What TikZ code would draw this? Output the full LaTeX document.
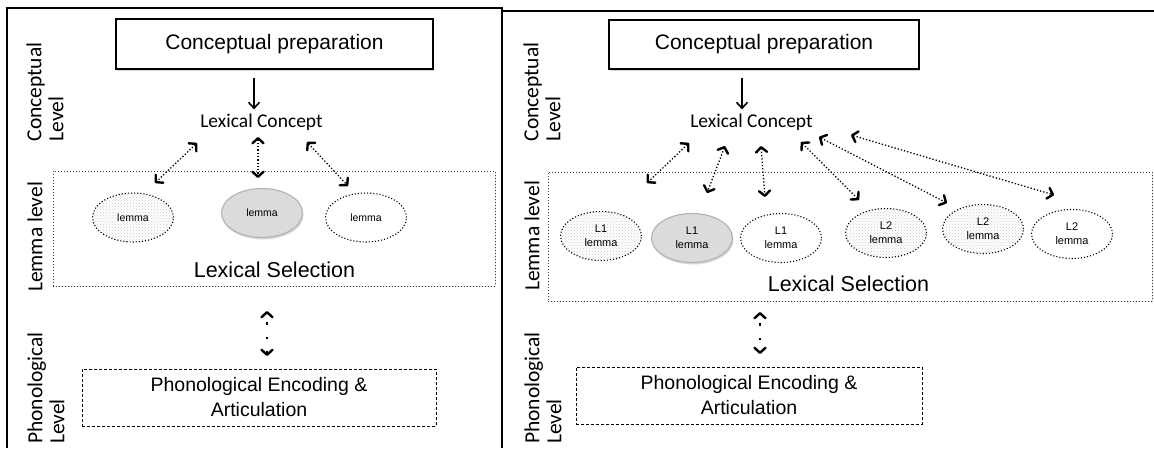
\documentclass[tikz,border=0pt]{standalone}
\usepackage{fontspec}
\setmainfont{Liberation Sans}
\newfontfamily\calibri{Carlito}
\usetikzlibrary{arrows.meta,shadows,patterns,shapes.geometric}

\begin{document}
\begin{tikzpicture}[
    x=1pt, y=-1pt,
    prepbox/.style={rectangle, draw, line width=1.2pt, fill=white, inner sep=0pt, font=\fontsize{21}{25}\selectfont, drop shadow={shadow xshift=1.2pt, shadow yshift=-1.5pt, opacity=0.35}},
    selbox/.style={rectangle, draw=black!75, line width=1pt, dotted, fill=white, inner sep=0pt, drop shadow={shadow xshift=0.8pt, shadow yshift=-1pt, opacity=0.2}},
    phonbox/.style={rectangle, draw, line width=1pt, dash pattern=on 3pt off 2pt, inner sep=0pt, align=center, font=\fontsize{19.5}{25}\selectfont},
    levellabel/.style={rotate=90, align=left, inner sep=0pt, font=\calibri\fontsize{21.5}{22}\selectfont},
    concept/.style={inner sep=0pt, font=\calibri\fontsize{19.5}{22}\selectfont},
    selection/.style={inner sep=0pt, font=\fontsize{21.5}{25}\selectfont},
    lemma/.style={ellipse, minimum width=81pt, minimum height=49pt, inner sep=0pt, align=center, line width=1.1pt, font=\fontsize{11}{14}\selectfont},
    hatched/.style={lemma, draw, dotted, pattern=crosshatch dots, pattern color=gray!40},
    chosen/.style={lemma, draw=gray!60, fill=gray!28, drop shadow={shadow xshift=1pt, shadow yshift=-2pt, opacity=0.3}},
    blank/.style={lemma, draw, dotted, fill=white},
    arrow/.style={-{Straight Barb[length=6pt, width=11pt, line width=1.6pt]}, line width=1.3pt},
    link/.style={{Straight Barb[length=5pt, width=11pt, line width=2.4pt, round]}-{Straight Barb[length=5pt, width=11pt, line width=2.4pt, round]}, line width=1.3pt, dash pattern=on 1.3pt off 2pt},
    sparse/.style={link, line width=2.4pt, dash pattern=on 2.4pt off 12pt, dash phase=-9pt}
]
\useasboundingbox (0,0) rectangle (1154,448);

% Frames
\draw[line width=2.8pt] (7,448) |- (502,8) -- (502,448);
\draw[line width=1.5pt] (502,11) -- (1154,11);

% Left panel: single language
\node[levellabel] (clabL) at (45,92) {Conceptual\\Level};
\node[levellabel] (llabL) at (35,237) {Lemma level};
\node[levellabel] (plabL) at (46,388) {Phonological\\Level};

\node[prepbox, minimum width=317pt, minimum height=50pt] (prepL) at (274.5,44) {Conceptual preparation};
\node[concept] (lcL) at (261.5,122) {Lexical Concept};
\node[selbox, minimum width=442pt, minimum height=115pt] (selL) at (274,228.5) {};
\node[hatched, font=\fontsize{10.5}{13}\selectfont] (lemL1) at (133,217.5) {lemma};
\node[chosen, font=\fontsize{10.5}{13}\selectfont] (lemL2) at (262,213) {lemma};
\node[blank, font=\fontsize{10.5}{13}\selectfont] (lemL3) at (366,217.5) {lemma};
\node[selection] (lsL) at (274.5,270) {Lexical Selection};
\node[phonbox, minimum width=354pt, minimum height=57pt] (phonL) at (259,397.5) {Phonological Encoding \&\\Articulation};

\coordinate (aL1) at (197,143); \coordinate (bL1) at (155,183);
\coordinate (aL2) at (258,137); \coordinate (bL2) at (258,178);
\coordinate (aL3) at (307,142); \coordinate (bL3) at (348,186);
\coordinate (aL4) at (267,311); \coordinate (bL4) at (267,356);

\draw[arrow] ([xshift=-20.5pt, yshift=-8pt]prepL.south) -- ([xshift=-7.5pt, yshift=4pt]lcL.north);
\draw[link] (aL1) -- (bL1);
\draw[link] (aL2) -- (bL2);
\draw[link] (aL3) -- (bL3);
\draw[sparse] (aL4) -- (bL4);

% Right panel: two languages
\node[levellabel] (clabR) at (542,92) {Conceptual\\Level};
\node[levellabel] (llabR) at (532,236) {Lemma level};
\node[levellabel] (plabR) at (543,388) {Phonological\\Level};

\node[prepbox, minimum width=310pt, minimum height=49pt] (prepR) at (764,44.5) {Conceptual preparation};
\node[concept] (lcR) at (751.5,122) {Lexical Concept};
\node[selbox, minimum width=604pt, minimum height=129pt] (selR) at (850,236.5) {};
\node[hatched] (lemR1) at (601,236) {L1\\lemma};
\node[chosen] (lemR2) at (692,238) {L1\\lemma};
\node[blank] (lemR3) at (781,238) {L1\\lemma};
\node[hatched] (lemR4) at (886,233) {L2\\lemma};
\node[hatched] (lemR5) at (983,229) {L2\\lemma};
\node[blank] (lemR6) at (1072,234) {L2\\lemma};
\node[selection] (lsR) at (848.5,284) {Lexical Selection};
\node[phonbox, minimum width=346pt, minimum height=57pt] (phonR) at (749,395.5) {Phonological Encoding \&\\Articulation};

\coordinate (aR1) at (689,143); \coordinate (bR1) at (647,183);
\coordinate (aR2) at (725,146); \coordinate (bR2) at (707,193);
\coordinate (aR3) at (761,146); \coordinate (bR3) at (765,197);
\coordinate (aR4) at (801,142); \coordinate (bR4) at (859,200);
\coordinate (aR5) at (819,137); \coordinate (bR5) at (947,203);
\coordinate (aR6) at (851,135); \coordinate (bR6) at (1054,195);
\coordinate (aR7) at (760,312); \coordinate (bR7) at (760,354);

\draw[arrow] ([xshift=-22pt, yshift=-8pt]prepR.south) -- ([xshift=-9.5pt, yshift=4pt]lcR.north);
\draw[link] (aR1) -- (bR1);
\draw[link] (aR2) -- (bR2);
\draw[link] (aR3) -- (bR3);
\draw[link] (aR4) -- (bR4);
\draw[link] (aR5) -- (bR5);
\draw[link] (aR6) -- (bR6);
\draw[sparse] (aR7) -- (bR7);
\end{tikzpicture}
\end{document}
